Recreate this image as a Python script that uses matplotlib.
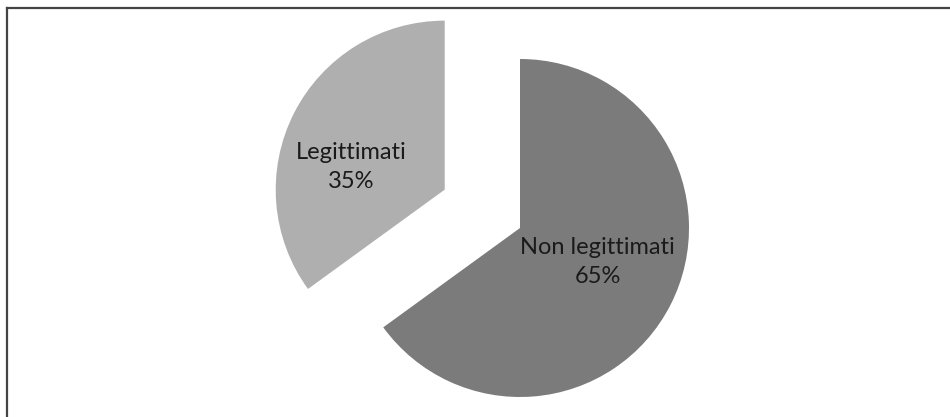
import matplotlib.pyplot as plt
from matplotlib.lines import Line2D

labels = ["Non legittimati", "Legittimati"]
shares = [65, 35]
colors = ["#7b7b7b", "#afafaf"]
explode = [0, 0.5]

plt.rcParams["font.family"] = ["Lato", "DejaVu Sans"]

fig = plt.figure(figsize=(9.5, 4.17), dpi=100)
ax = fig.add_axes([0, 0, 1, 1])

wedges, texts = ax.pie(
    shares,
    colors=colors,
    explode=explode,
    startangle=90,
    counterclock=False,
    radius=1.0,
    labels=[f"{l}\n{s}%" for l, s in zip(labels, shares)],
    labeldistance=0.4,
    textprops=dict(fontsize=17, color="#1a1a1a", ha="center", va="center",
                   linespacing=1.45),
    wedgeprops=dict(linewidth=0),
)
# place labels where the source puts them
texts[0].set_position((0.46, -0.20))
texts[1].set_position((-1.0, 0.36))
for t in texts:
    t.set_ha("center")
    t.set_va("center")

ax.set_xlim(-520 / 169, (950 - 520) / 169)
ax.set_ylim(-189 / 169, 228 / 169)
ax.axis("off")

# frame lines on top and left only
fig.add_artist(Line2D([7 / 950, 1], [1 - 8 / 417] * 2, color="#444444", lw=1.6))
fig.add_artist(Line2D([7 / 950] * 2, [0, 1 - 8 / 417], color="#444444", lw=1.6))

fig.savefig("out.png", dpi=100, facecolor="white")
